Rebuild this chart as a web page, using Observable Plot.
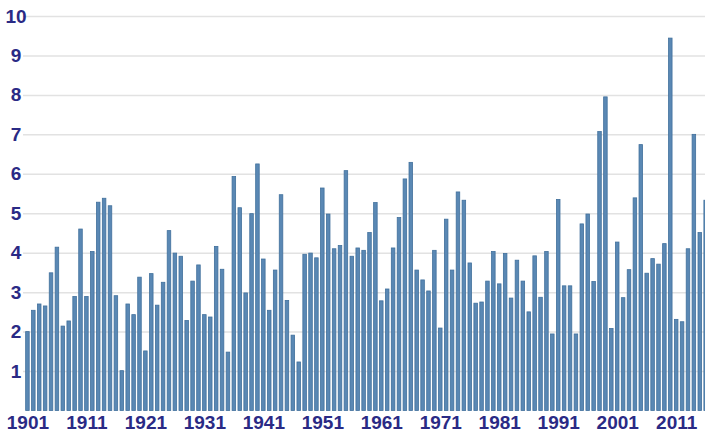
<!DOCTYPE html>
<html>
<head>
<meta charset="utf-8">
<script src="https://cdn.jsdelivr.net/npm/d3@7"></script>
<script src="https://cdn.jsdelivr.net/npm/@observablehq/plot@0.6"></script>
<style>
  html, body { margin: 0; padding: 0; background: #fff; overflow: hidden; }
  #chart svg { overflow: hidden; }
</style>
</head>
<body>
<div id="chart"></div>
<script>
const firstYear = 1901;
const values = [
  2.00, 2.54, 2.70, 2.65, 3.49, 4.14, 2.14, 2.27, 2.89, 4.60,
  2.89, 4.03, 5.28, 5.38, 5.19, 2.91, 1.01, 2.70, 2.43, 3.38,
  1.51, 3.47, 2.67, 3.25, 4.56, 3.99, 3.91, 2.28, 3.28, 3.69,
  2.43, 2.37, 4.16, 3.58, 1.48, 5.93, 5.14, 2.98, 4.99, 6.25,
  3.84, 2.54, 3.56, 5.47, 2.79, 1.91, 1.23, 3.96, 3.99, 3.87,
  5.64, 4.98, 4.10, 4.18, 6.08, 3.91, 4.12, 4.06, 4.51, 5.27,
  2.78, 3.08, 4.12, 4.89, 5.87, 6.29, 3.56, 3.31, 3.03, 4.06,
  2.09, 4.85, 3.56, 5.54, 5.33, 3.74, 2.72, 2.75, 3.28, 4.03,
  3.21, 3.98, 2.85, 3.81, 3.28, 2.50, 3.92, 2.87, 4.03, 1.94,
  5.35, 3.16, 3.16, 1.94, 4.73, 4.98, 3.27, 7.07, 7.95, 2.08,
  4.27, 2.86, 3.57, 5.39, 6.74, 3.48, 3.85, 3.71, 4.23, 9.44,
  2.31, 2.25, 4.10, 7.00, 4.51, 5.33
];
const years = values.map((_, i) => firstYear + i);
const xTicks = [1901, 1911, 1921, 1931, 1941, 1951, 1961, 1971, 1981, 1991, 2001, 2011];
const yTicks = [1, 2, 3, 4, 5, 6, 7, 8, 9, 10];

const data = years.map((year, i) => ({year, value: values[i]}));

const labelColor = "#2a2a85";
const fontFam = "'Liberation Sans Narrow', 'Liberation Sans', Arial, sans-serif";

const chart = Plot.plot({
  width: 705,
  height: 434,
  marginLeft: 23,
  marginRight: 0,
  marginTop: 16,
  marginBottom: 23.5,
  style: {fontFamily: fontFam, background: "#fff"},
  x: {type: "band", domain: years, range: [23.3, 709.8], padding: 0.4},
  y: {domain: [0, 10]},
  marks: [
    Plot.ruleY(yTicks, {stroke: "#e2e2e2", strokeWidth: 1.5}),
    Plot.barY(data, {x: "year", y: "value", fill: "#5a88b4", stroke: "#41709c", strokeWidth: 0.8}),
    Plot.axisY({ticks: yTicks, tickSize: 0, tickPadding: 7.5, textAnchor: "middle",
      fontSize: 19, fontWeight: "bold", fill: labelColor, label: null}),
    Plot.axisX({ticks: xTicks, tickFormat: d => String(d), tickSize: 0, tickPadding: 4,
      fontSize: 19, fontWeight: "bold", fill: labelColor, label: null})
  ]
});
document.getElementById("chart").appendChild(chart);
</script>
</body>
</html>
